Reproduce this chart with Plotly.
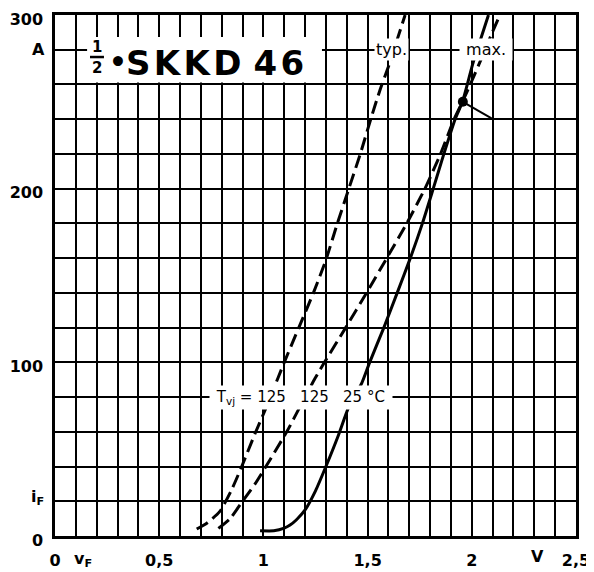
import plotly.graph_objects as go

# ---- data (forward voltage V, forward current A) ----
typ125_v = [0.68, 0.73, 0.79, 0.845, 0.896, 0.96, 1.01, 1.07, 1.10, 1.17, 1.24, 1.30,
            1.355, 1.41, 1.465, 1.515, 1.56, 1.605, 1.645, 1.68]
typ125_i = [4, 7.5, 14, 26, 40, 59, 73, 91, 100, 120, 140, 159,
            180, 200, 220, 240, 257, 272, 287, 300]

max125_v = [0.784, 0.84, 0.904, 0.96, 1.012, 1.112, 1.176, 1.248, 1.293, 1.395, 1.495,
            1.592, 1.688, 1.775, 1.85, 1.915, 1.955, 2.0, 2.05, 2.095, 2.135]
max125_i = [4.4, 10, 20.7, 30, 40, 60, 74.5, 90.8, 100, 120, 140,
            160, 180, 200, 220, 240, 250, 262, 276, 289, 300]

max25_v = [0.984, 1.05, 1.10, 1.128, 1.16, 1.20, 1.25, 1.30, 1.36, 1.407, 1.472, 1.51,
           1.578, 1.642, 1.705, 1.763, 1.815, 1.866, 1.92, 1.955, 2.005, 2.045, 2.08]
max25_i = [3, 3, 4.5, 6.3, 9.5, 15, 26, 40, 58, 73.5, 88, 100,
           120, 140, 160, 180, 200, 220, 240, 250, 272, 287, 300]

cross_v = [1.957]
cross_i = [250]
pointer_v = [1.957, 2.095]
pointer_i = [250, 240.5]

x_range = [0, 2.5]
y_range = [0, 300]

BLACK = "black"
DASH = "13px,6px"
LAB = dict(family="DejaVu Sans", size=16, color=BLACK, weight="bold")
TXT = dict(family="DejaVu Sans", size=15, color=BLACK)

fig = go.Figure()
for xs, ys, dash in [(typ125_v, typ125_i, DASH), (max125_v, max125_i, DASH), (max25_v, max25_i, "solid")]:
    fig.add_trace(go.Scatter(x=xs, y=ys, mode="lines",
                             line=dict(color=BLACK, width=3, dash=dash, shape="spline", smoothing=0.6),
                             hoverinfo="skip"))
fig.add_trace(go.Scatter(x=pointer_v, y=pointer_i, mode="lines",
                         line=dict(color=BLACK, width=2), hoverinfo="skip"))
fig.add_trace(go.Scatter(x=cross_v, y=cross_i, mode="markers",
                         marker=dict(color=BLACK, size=10), hoverinfo="skip"))

axis_common = dict(showgrid=True, gridcolor=BLACK, gridwidth=2, zeroline=False,
                   showline=True, linecolor=BLACK, linewidth=2.5, mirror=True,
                   tickcolor="rgba(0,0,0,0)", ticks="outside", tickfont=LAB,
                   automargin=False, ticklabeloverflow="allow")

# the page body adds an 8px offset; margins compensate so the plot area
# lands at x 55..576, y 15..536 of the window
fig.update_layout(
    width=594, height=572,
    margin=dict(l=47, r=26, t=7, b=44, autoexpand=False),
    paper_bgcolor="white", plot_bgcolor="white",
    showlegend=False,
    separators=", ",
    xaxis=dict(range=x_range, tick0=0, dtick=0.5, ticklen=8,
               minor=dict(dtick=0.1, showgrid=True, gridcolor=BLACK, gridwidth=2, ticks=""),
               **axis_common),
    yaxis=dict(range=y_range, tick0=0, dtick=100, ticklen=6, ticklabelshift=4,
               minor=dict(dtick=20, showgrid=True, gridcolor=BLACK, gridwidth=2, ticks=""),
               **axis_common),
)

# white box behind the type designation
fig.add_shape(type="rect", xref="x", yref="y", x0=0.154, x1=1.281, y0=261.2, y1=287.3,
              fillcolor="white", line=dict(width=0), layer="above")
# fraction bar of 1/2
fig.add_shape(type="line", xref="x", yref="y", x0=0.168, x1=0.235, y0=275.8, y1=275.8,
              line=dict(color=BLACK, width=2.5), layer="above")

C = dict(xanchor="center", yanchor="middle", showarrow=False)
HS = "\u200a"
ann = []
ann.append(dict(x=0.2015, y=281.4, xref="x", yref="y", text="1",
                font=dict(family="DejaVu Sans", size=15, color=BLACK, weight="bold"), **C))
ann.append(dict(x=0.2035, y=269.3, xref="x", yref="y", text="2",
                font=dict(family="DejaVu Sans", size=15, color=BLACK, weight="bold"), **C))
ann.append(dict(x=0.302, y=272.6, xref="x", yref="y", text="\u2022",
                font=dict(family="DejaVu Sans", size=28, color=BLACK, weight="bold"), **C))
ann.append(dict(x=0.332, y=272.6, xref="x", yref="y", xanchor="left", yanchor="middle",
                text="S" + HS + "K" + HS + "K" + HS + "D 4" + HS + "6", showarrow=False,
                font=dict(family="DejaVu Sans", size=34, color=BLACK, weight="bold")))
# curve labels
ann.append(dict(x=1.617, y=280, xref="x", yref="y", text="typ.",
                bgcolor="white", borderpad=1, font=dict(family="DejaVu Sans", size=16, color=BLACK), **C))
ann.append(dict(x=2.070, y=280, xref="x", yref="y", text="\u00a0max.\u00a0",
                bgcolor="white", borderpad=1, font=dict(family="DejaVu Sans", size=16, color=BLACK), **C))
ann.append(dict(x=1.18, y=80, xref="x", yref="y",
                text="\u00a0T<sub>vj</sub> = 125\u00a0\u00a0\u00a0125\u00a0\u00a0\u00a025 \u00b0C\u00a0",
                bgcolor="white", borderpad=2, font=TXT, **C))
# axis unit / symbol labels
ann.append(dict(x=-0.031, y=280, xref="paper", yref="y", text="A", font=LAB, **C))
ann.append(dict(x=-0.034, y=22, xref="paper", yref="y", text="i<sub>F</sub>", font=LAB, **C))
ann.append(dict(x=0.136, y=-0.045, xref="x", yref="paper", text="v<sub>F</sub>", font=LAB, **C))
ann.append(dict(x=2.313, y=-0.039, xref="x", yref="paper", text="V", font=LAB, **C))
fig.update_layout(annotations=ann)

fig.write_html("out.html")
